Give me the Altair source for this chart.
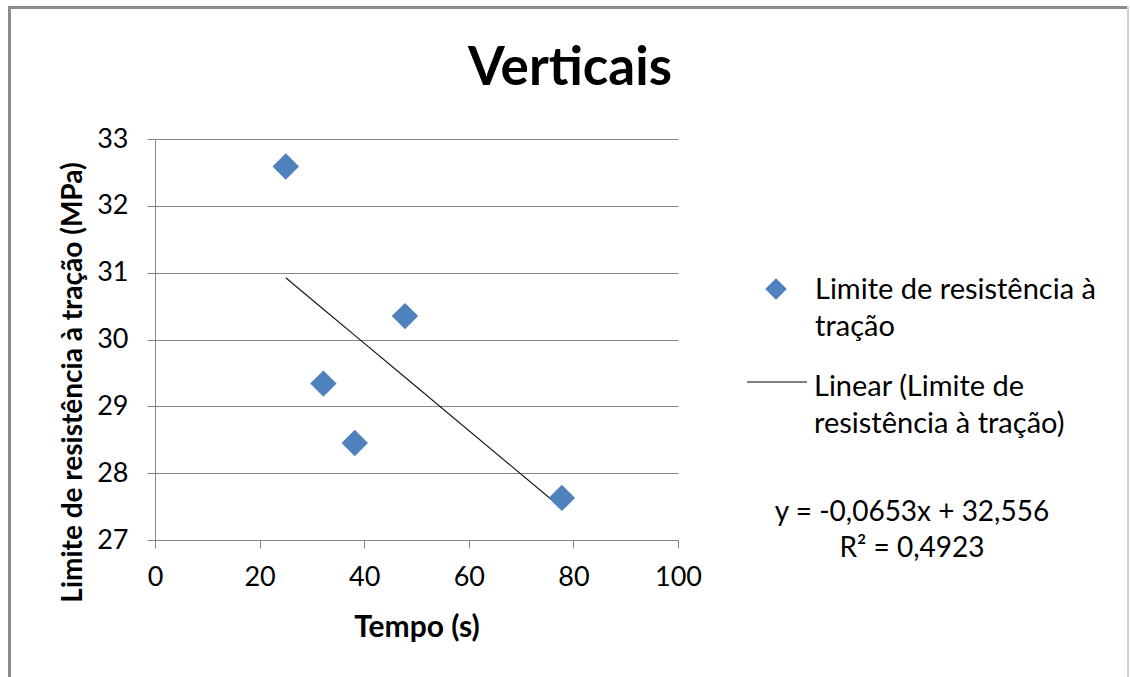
import altair as alt
import pandas as pd

# Tensile strength limit vs. time, vertical specimens
tempo = [25.0, 32.2, 38.2, 47.8, 77.8]
limite = [32.59, 29.34, 28.45, 30.35, 27.63]

# Linear trend reported for the series
slope = -0.0653
intercept = 32.556
r2 = 0.4923

x_ticks = [0, 20, 40, 60, 80, 100]
y_ticks = [27, 28, 29, 30, 31, 32, 33]

titulo = "Verticais"
serie = ["Limite de resistência à", "tração"]
tendencia = ["Linear (Limite de", "resistência à tração)"]
eq_text = f"y = {slope:.4f}x + {intercept:.3f}".replace(".", ",")
r2_text = f"R² = {r2:.4f}".replace(".", ",")

FONT = "Lato"
BLUE = "#4F81BD"
GRAY = "#868686"

W, H = 523, 401
PAD = {"left": 155, "top": 139, "right": 1130 - 155 - W, "bottom": 677 - 139 - H}

df = pd.DataFrame({"tempo": tempo, "limite": limite})
one = pd.DataFrame({"k": [0]})

x_enc = alt.X(
    "tempo:Q",
    scale=alt.Scale(domain=[0, 100], nice=False),
    axis=alt.Axis(
        values=x_ticks, title="Tempo (s)", grid=False, tickSize=8,
        labelPadding=16, titlePadding=22, format="d", titleFontSize=30,
        labelFlush=False,
    ),
)
y_enc = alt.Y(
    "limite:Q",
    scale=alt.Scale(domain=[27, 33], zero=False, nice=False),
    axis=alt.Axis(
        values=y_ticks, title="Limite de resistência à tração (MPa)",
        grid=True, tickSize=8, labelPadding=19, format="d", labelFlush=False,
        titleFontSize=28, titleX=-82, titleY=243, titleBaseline="middle",
        titleAlign="center",
    ),
)

points = alt.Chart(df).mark_point(
    shape="diamond", filled=True, size=700, color=BLUE, opacity=1
).encode(x=x_enc, y=y_enc)

trend = alt.Chart(df).transform_calculate(
    fit=f"{slope} * datum.tempo + {intercept}"
).mark_line(color="#1a1a1a", strokeWidth=1.2).encode(
    x="tempo:Q", y="fit:Q", order="tempo:Q"
)


def text_at(txt, x, y, size=29, align="left", weight="normal"):
    return alt.Chart(one).mark_text(
        text=txt, font=FONT, fontSize=size, align=align, baseline="alphabetic",
        fontWeight=weight, color="#000000",
    ).encode(x=alt.value(x), y=alt.value(y))


title = text_at(titulo, 415, -54, size=53, align="center", weight="bold")

leg_symbol = alt.Chart(one).mark_point(
    shape="diamond", filled=True, size=460, color=BLUE, opacity=1
).encode(x=alt.value(621), y=alt.value(150))
leg_line = alt.Chart(one).mark_rule(color="#000000", strokeWidth=1.2).encode(
    x=alt.value(592), x2=alt.value(652), y=alt.value(243)
)
leg_texts = [
    text_at(serie[0], 660, 160),
    text_at(serie[1], 660, 197),
    text_at(tendencia[0], 659, 257),
    text_at(tendencia[1], 659, 294),
    text_at(eq_text, 757, 382, size=28, align="center"),
    text_at(r2_text, 757, 418, size=28, align="center"),
]

frame_top = alt.Chart(one).mark_rule(color="#8c8c8c", strokeWidth=3).encode(
    x=alt.value(-147), x2=alt.value(973), y=alt.value(-131.5)
)
frame_left = alt.Chart(one).mark_rule(color="#8c8c8c", strokeWidth=3).encode(
    x=alt.value(-145.5), y=alt.value(-133), y2=alt.value(540)
)
frame_right = alt.Chart(one).mark_rule(color="#d4d4d4", strokeWidth=2).encode(
    x=alt.value(973), y=alt.value(-133), y2=alt.value(540)
)

chart = alt.layer(
    frame_top, frame_left, frame_right,
    trend, points, title, leg_symbol, leg_line, *leg_texts,
).properties(
    width=W, height=H,
    autosize=alt.AutoSizeParams(type="none"),
    padding=PAD,
    background="white",
).configure_view(stroke=None).configure_axis(
    domainColor=GRAY, tickColor=GRAY, gridColor=GRAY, gridOpacity=1,
    domainWidth=1, tickWidth=1, gridWidth=1,
    labelFont=FONT, labelFontSize=27, labelColor="#000000",
    titleFont=FONT, titleFontWeight="bold", titleColor="#000000",
)

chart.save("out.html", embed_options={"renderer": "svg", "actions": False})
